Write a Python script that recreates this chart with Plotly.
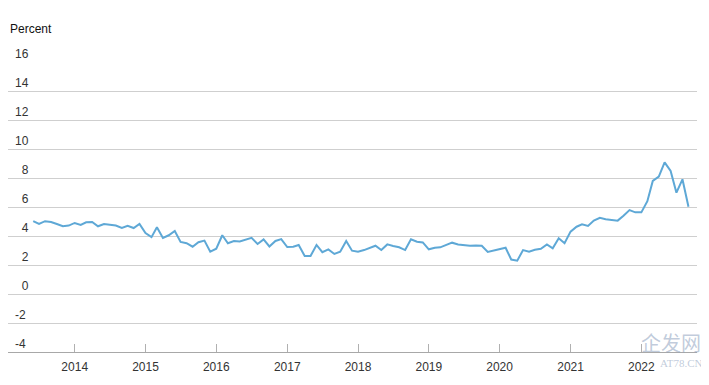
import pandas as pd
import plotly.graph_objects as go

# Monthly observations, Jun 2013 - Sep 2022 (percent)
start_month = "2013-06-01"
values = [
    5.03, 4.83, 5.02, 4.97, 4.83, 4.68, 4.72,                                  # 2013 Jun-Dec
    4.90, 4.77, 4.95, 4.97, 4.67, 4.83, 4.80, 4.72, 4.55, 4.70, 4.55, 4.83,    # 2014
    4.20, 3.92, 4.60, 3.87, 4.05, 4.35, 3.59, 3.50, 3.26, 3.57, 3.68, 2.92,    # 2015
    3.12, 4.05, 3.50, 3.65, 3.62, 3.75, 3.87, 3.45, 3.77, 3.28, 3.66, 3.79,    # 2016
    3.24, 3.26, 3.38, 2.62, 2.62, 3.38, 2.88, 3.08, 2.76, 2.92, 3.66, 2.99,    # 2017
    2.92, 3.03, 3.15, 3.33, 3.03, 3.42, 3.31, 3.22, 3.03, 3.77, 3.60, 3.56,    # 2018
    3.08, 3.19, 3.22, 3.40, 3.54, 3.42, 3.38, 3.33, 3.35, 3.33, 2.90, 3.00,    # 2019
    3.12, 3.19, 2.38, 2.30, 3.03, 2.92, 3.05, 3.12, 3.42, 3.15, 3.84, 3.50,    # 2020
    4.30, 4.64, 4.80, 4.69, 5.06, 5.26, 5.15, 5.10, 5.06, 5.40, 5.79, 5.63,    # 2021
    5.63, 6.40, 7.80, 8.10, 9.08, 8.48, 6.99, 7.91, 6.02,                      # 2022 Jan-Sep
]
dates = pd.date_range(start_month, periods=len(values), freq="MS")

x_tick_years = [2014, 2015, 2016, 2017, 2018, 2019, 2020, 2021, 2022]
x_tick_vals = [f"{y}-01-01" for y in x_tick_years]
x_tick_text = [str(y) for y in x_tick_years]

y_tick_vals = [-4, -2, 0, 2, 4, 6, 8, 10, 12, 14, 16]
y_tick_text = ["-4", "-2", "\u20070", "\u20072", "\u20074", "\u20076", "\u20078",
               "10", "12", "14", "16"]

FONT = "Arial, 'Liberation Sans', sans-serif"

fig = go.Figure()
fig.add_trace(go.Scatter(
    x=dates, y=values, mode="lines",
    line=dict(color="#5ea8d6", width=2),
    hoverinfo="skip", showlegend=False,
))

fig.update_layout(
    width=709, height=385,
    margin=dict(l=0, r=20, t=54, b=41),
    paper_bgcolor="white", plot_bgcolor="white",
    font=dict(family=FONT, size=12, color="#333333"),
    xaxis=dict(
        type="date",
        range=["2013-01-22", "2022-10-15"],
        tickvals=x_tick_vals, ticktext=x_tick_text,
        ticks="inside", ticklen=8, tickcolor="#b0b0b0", tickwidth=1,
        ticklabelstandoff=4,
        showgrid=False, zeroline=False,
        showline=True, linecolor="#a8a8a8", linewidth=1,
        tickfont=dict(size=12, color="#333333"),
    ),
    yaxis=dict(
        range=[-4, 16],
        tickvals=y_tick_vals, ticktext=y_tick_text,
        ticklabelposition="inside top", ticklabeloverflow="allow",
        ticklabelstandoff=4,
        showgrid=True, gridcolor="#cfcfcf", gridwidth=1,
        zeroline=False, showline=False, ticks="",
        tickfont=dict(size=12, color="#333333"),
    ),
    annotations=[
        dict(text="Percent", xref="paper", yref="paper", x=0.0, y=1.114,
             xanchor="left", yanchor="middle", showarrow=False,
             font=dict(size=12, color="#111111", family=FONT)),
        dict(text="企发网", xref="paper", yref="paper", x=1.009, y=0.034,
             xanchor="right", yanchor="middle", showarrow=False,
             font=dict(size=20, color="rgba(140,160,190,0.55)", family="Noto Sans CJK SC")),
        dict(text="AT78.CN", xref="paper", yref="paper", x=1.012, y=-0.038,
             xanchor="right", yanchor="middle", showarrow=False,
             font=dict(size=11, color="rgba(140,160,190,0.55)", family="'Liberation Serif', serif")),
    ],
)

fig.write_html("out.html")
